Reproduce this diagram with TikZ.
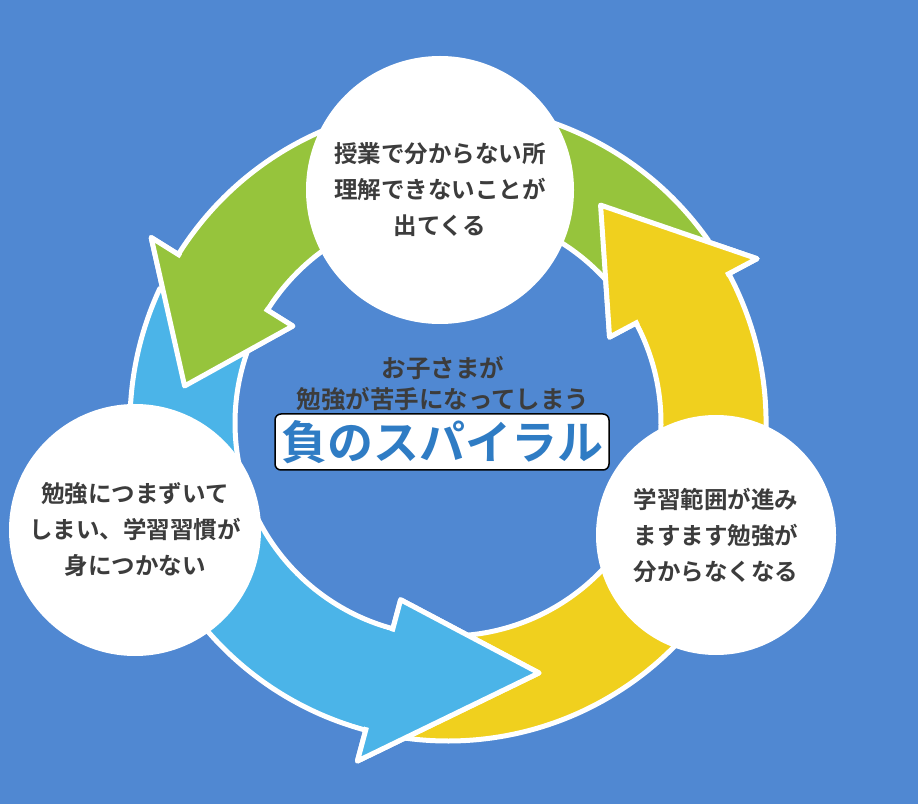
\documentclass[tikz,border=0pt]{standalone}
\usepackage{fontspec}
\setmainfont{Noto Sans CJK JP}[BoldFont={Noto Sans CJK JP Bold}]
\usetikzlibrary{calc}
\begin{document}
\begin{tikzpicture}[x=1pt,y=1pt,
  bub/.style={circle,fill=white,text=txt,font=\bfseries\fontsize{23.5}{36}\selectfont,align=center,inner sep=0pt},
  arw/.style={draw=white,line width=5pt,line join=round}]
\definecolor{bg}{RGB}{80,136,210}
\definecolor{txt}{RGB}{60,60,60}
\definecolor{yel}{RGB}{240,208,30}
\definecolor{grn}{RGB}{150,196,60}
\definecolor{blu}{RGB}{75,180,232}
\definecolor{ttl}{RGB}{47,124,196}
\fill[bg] (0,0) rectangle (918,804);
\useasboundingbox (0,0) rectangle (918,804);
\coordinate (C) at (448,381);
\def\ri{213}\def\ro{318}\def\hi{183}\def\ho{350}\def\rm{266}
\newcommand\arrowfull[4]{% start, base, tip, colour
  \path[arw,fill=#4] ($(C)+(#1:\ri)$) arc[start angle=#1,end angle=#2,radius=\ri]
   -- ($(C)+(#2:\hi)$) -- ($(C)+(#3:\rm)$) -- ($(C)+(#2:\ho)$) -- ($(C)+(#2:\ro)$)
   arc[start angle=#2,end angle=#1,radius=\ro] -- cycle;}
\newcommand\arrowhead[3]{% base, tip, colour
  \path[arw,fill=#3] ($(C)+(#1:\hi)$) -- ($(C)+(#2:\rm)$) -- ($(C)+(#1:\ho)$) -- cycle;
  \fill[#3] ($(C)+(#1-3:\ri+3)$) -- ($(C)+(#1+1:\ri+3)$) -- ($(C)+(#1+1:\ro-3)$) -- ($(C)+(#1-3:\ro-3)$) -- cycle;}
\arrowfull{-100}{28}{55}{yel}
\arrowfull{35}{148}{172}{grn}
\arrowfull{155}{255}{290}{blu}
\arrowhead{28}{55}{yel}
\arrowhead{148}{172}{grn}
\arrowhead{255}{290}{blu}
\node[bub,minimum size=268pt] (top) at (440,614) {授業で分からない所\\理解できないことが\\出てくる};
\node[bub,minimum size=252pt] (left) at (135,274) {勉強につまずいて\\しまい、学習習慣が\\身につかない};
\node[bub,minimum size=240pt] (right) at (716,269) {学習範囲が進み\\ますます勉強が\\分からなくなる};
\node[text=txt,font=\bfseries\fontsize{24.5}{31}\selectfont,align=center] (sub) at (443,420) {お子さまが\\勉強が苦手になってしまう};
\node[draw=black,line width=1.5pt,fill=white,rounded corners=6pt,text=ttl,font=\bfseries\fontsize{46}{46}\selectfont,minimum width=334pt,minimum height=56pt,inner sep=0pt] (title) at (442,362) {負のスパイラル};
\end{tikzpicture}
\end{document}
